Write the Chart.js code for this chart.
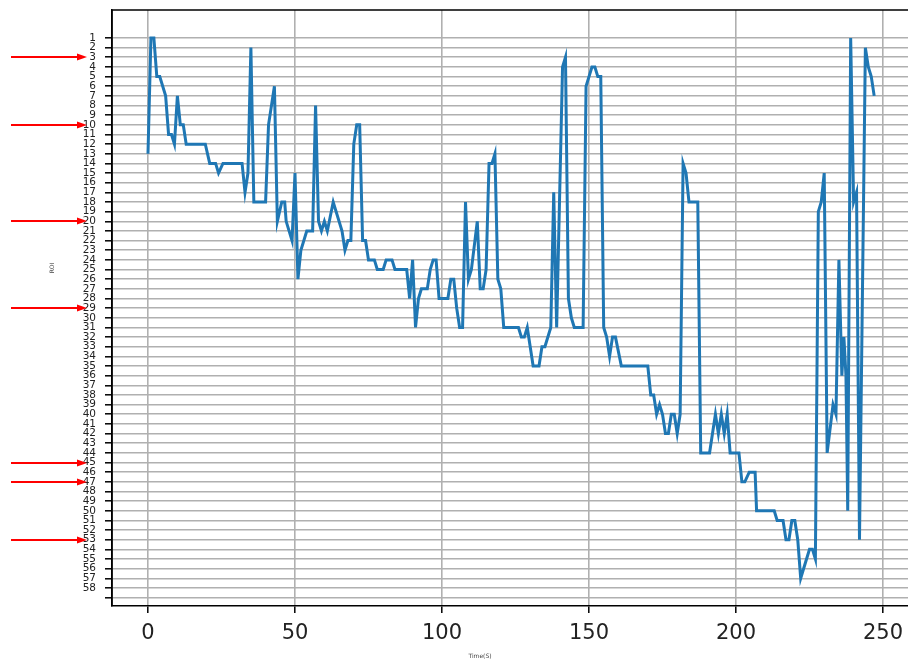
<!DOCTYPE html>
<html>
<head>
<meta charset="utf-8">
<script src="https://cdn.jsdelivr.net/npm/chart.js@4/dist/chart.umd.min.js"></script>
<style>
  html, body { margin: 0; padding: 0; background: #fff; overflow: hidden; }
  #wrap { width: 908px; height: 662px; }
</style>
</head>
<body>
<div id="wrap"><canvas id="c" width="908" height="662"></canvas></div>
<script>
// ---- data ----
const times = [0, 1, 2, 3, 4, 6, 7, 8, 9, 10, 11, 12, 13, 19.5, 21, 23, 24, 25.5, 32, 33, 34, 35, 36, 40, 41, 43, 44, 45.5, 46.5, 47, 49, 50, 51, 52, 54, 56, 57, 58, 59, 60, 61, 63, 66, 67, 68, 69, 70, 71, 72, 73, 74, 75, 77, 78, 80, 81, 83, 84, 88, 89, 90, 91, 92, 93, 95, 96, 97, 98, 99, 102, 103, 104, 105, 106, 107, 108, 109, 110, 112, 113, 114, 115, 116, 117, 118, 119, 120, 121, 126, 127, 128, 129, 131, 133, 134, 135, 137, 138, 139, 141, 142, 143, 144, 145, 148, 149, 150, 151, 152, 153, 154, 155, 156, 157, 158, 159, 161, 170, 171, 172, 173, 174, 175, 176, 177, 178, 179, 180, 181, 182, 183, 184, 187, 188, 191, 193, 194, 195, 196, 197, 198, 201, 202, 203, 204.5, 206.5, 207, 213, 214, 216, 217, 218, 219, 220, 221, 222, 225, 226, 227, 228, 229, 230, 231, 233, 234, 235, 236, 236.7, 237.4, 238, 239, 240, 241, 242, 244, 245, 246, 247];
const roi = [13, 1, 1, 5, 5, 7, 11, 11, 12, 7, 10, 10, 12, 12, 14, 14, 15, 14, 14, 17, 15, 2, 18, 18, 10, 6, 20, 18, 18, 20, 22, 15, 26, 23, 21, 21, 8, 20, 21, 20, 21, 18, 21, 23, 22, 22, 12, 10, 10, 22, 22, 24, 24, 25, 25, 24, 24, 25, 25, 28, 24, 31, 28, 27, 27, 25, 24, 24, 28, 28, 26, 26, 29, 31, 31, 18, 26, 25, 20, 27, 27, 25, 14, 14, 13, 26, 27, 31, 31, 32, 32, 31, 35, 35, 33, 33, 31, 17, 31, 4, 3, 28, 30, 31, 31, 6, 5, 4, 4, 5, 5, 31, 32, 34, 32, 32, 35, 35, 38, 38, 40, 39, 40, 42, 42, 40, 40, 42, 40, 14, 15, 18, 18, 44, 44, 40, 42, 40, 42, 40, 44, 44, 47, 47, 46, 46, 50, 50, 51, 51, 53, 53, 51, 51, 53, 57, 54, 54, 55, 19, 18, 15, 44, 39, 40, 24, 36, 32, 36, 50, 1, 18, 17, 53, 2, 4, 5, 7];
const roiTickValues = Array.from({length: 59}, (_, i) => i + 1); // 59th tick has no label
const roiTickLabels = Array.from({length: 58}, (_, i) => String(i + 1));
const timeTickValues = [0, 50, 100, 150, 200, 250];
const markedRois = [3, 10, 20, 29, 45, 47, 53];

const points = times.map((t, i) => ({ x: t, y: roi[i] }));

const framePlugin = {
  id: 'frame',
  afterDraw(chart) {
    const { ctx, chartArea: a, scales } = chart;
    ctx.save();
    ctx.strokeStyle = '#000';
    ctx.lineWidth = 1.5;
    ctx.beginPath();
    ctx.moveTo(a.left, a.bottom);
    ctx.lineTo(a.left, a.top);
    ctx.lineTo(a.right, a.top);
    ctx.stroke();
    // axis titles
    ctx.fillStyle = '#444';
    ctx.font = '6px "DejaVu Sans"';
    ctx.textAlign = 'center';
    ctx.textBaseline = 'middle';
    ctx.fillText('Time(S)', 480, 656);
    ctx.save();
    ctx.translate(52, 268);
    ctx.rotate(-Math.PI / 2);
    ctx.fillText('ROI', 0, 0);
    ctx.restore();
    // red arrows pointing at marked ROI labels
    ctx.strokeStyle = '#ff0000';
    ctx.fillStyle = '#ff0000';
    ctx.lineWidth = 2;
    markedRois.forEach(v => {
      const y = Math.round(scales.y.getPixelForValue(v));
      const x0 = 11, tip = 87;
      ctx.beginPath();
      ctx.moveTo(x0, y);
      ctx.lineTo(tip - 7, y);
      ctx.stroke();
      ctx.beginPath();
      ctx.moveTo(tip, y);
      ctx.lineTo(tip - 10, y - 3.5);
      ctx.lineTo(tip - 10, y + 3.5);
      ctx.closePath();
      ctx.fill();
    });
    ctx.restore();
  }
};

new Chart(document.getElementById('c'), {
  type: 'line',
  data: {
    datasets: [{
      data: points,
      borderColor: '#1f77b4',
      borderWidth: 3,
      pointRadius: 0,
      tension: 0,
      fill: false
    }]
  },
  options: {
    responsive: false,
    animation: false,
    devicePixelRatio: 1,
    layout: { padding: { top: 10, right: 0, bottom: 0, left: 0 } },
    plugins: { legend: { display: false }, tooltip: { enabled: false } },
    scales: {
      x: {
        type: 'linear',
        min: -12.24,
        max: 258.5,
        afterBuildTicks: s => { s.ticks = timeTickValues.map(v => ({ value: v })); },
        afterFit: s => { s.height = 56; s.paddingLeft = 0; s.paddingRight = 0; },
        grid: { color: '#b0b0b0', lineWidth: 1.6, tickColor: '#000', tickLength: 7, tickWidth: 1.5 },
        border: { display: true, color: '#000', width: 1.5 },
        ticks: { color: '#222', font: { family: 'DejaVu Sans', size: 21 }, padding: 8, maxRotation: 0 }
      },
      y: {
        type: 'linear',
        reverse: true,
        min: -1.902,
        max: 59.87,
        afterBuildTicks: s => { s.ticks = roiTickValues.map(v => ({ value: v })); },
        afterFit: s => { s.width = 112; s.paddingTop = 0; s.paddingBottom = 0; },
        grid: { color: '#b0b0b0', lineWidth: 1.6, tickColor: '#000', tickLength: 7, tickWidth: 1.5 },
        border: { display: true, color: '#000', width: 1.5 },
        ticks: {
          autoSkip: false,
          color: '#222',
          font: { family: 'DejaVu Sans', size: 10.5 },
          padding: 9,
          callback: v => (v >= 1 && v <= 58 ? roiTickLabels[v - 1] : '')
        }
      }
    }
  },
  plugins: [framePlugin]
});
</script>
</body>
</html>
